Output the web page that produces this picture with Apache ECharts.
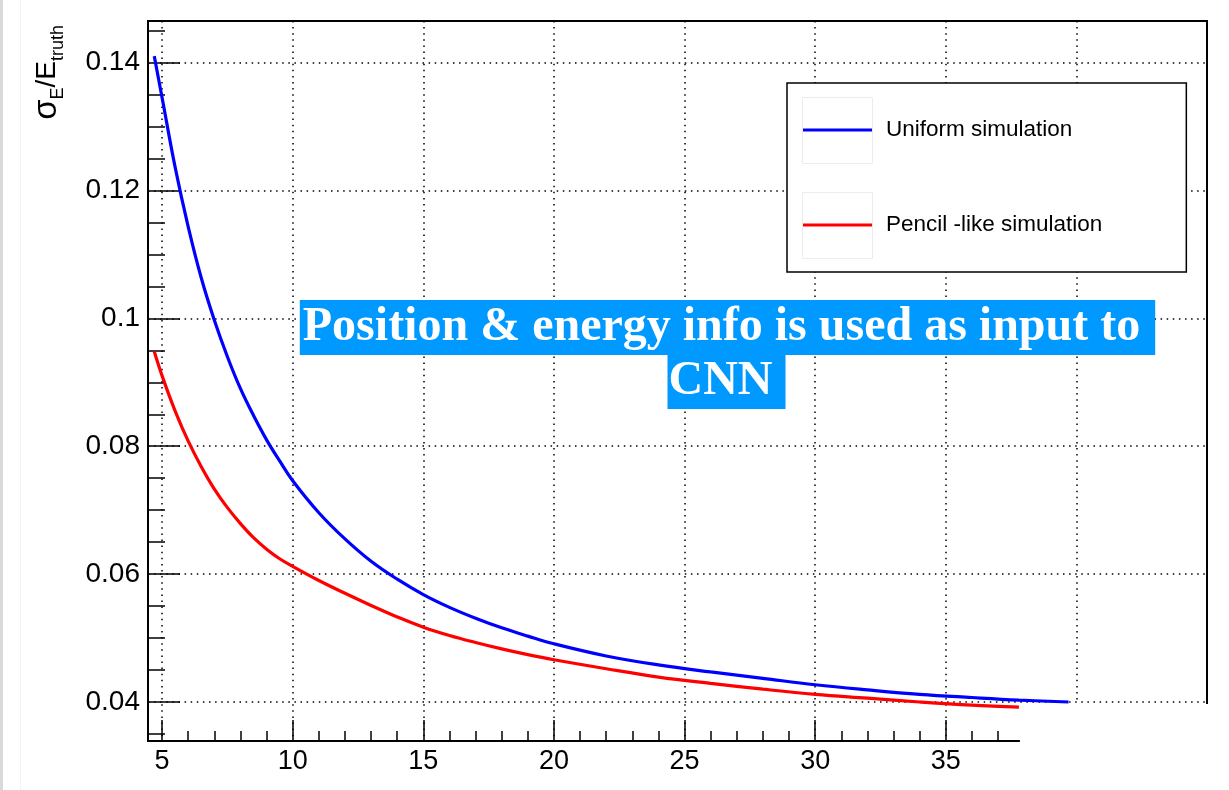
<!DOCTYPE html>
<html>
<head>
<meta charset="utf-8">
<script src="https://cdn.jsdelivr.net/npm/echarts@6/dist/echarts.min.js"></script>
<style>
  html, body { margin: 0; padding: 0; background: #fff; }
  #chart { width: 1229px; height: 790px; }
</style>
</head>
<body>
<div id="chart"></div>
<script>
// Energy resolution curves (sigma_E / E_truth versus beam energy)
const seriesNames = ['Uniform simulation', 'Pencil -like simulation'];

const uniformEnergy = [4.7, 5, 5.5, 6, 6.5, 7, 7.5, 8, 8.5, 9, 9.5, 10, 11, 12, 13, 14, 15, 16, 17, 18, 19, 20, 22, 24, 26, 28, 30, 32, 34, 36, 37.8, 39.7];
const uniformResolution = [0.1410, 0.1345, 0.1236, 0.1143, 0.1063, 0.0997, 0.0940, 0.0890, 0.0848, 0.0810, 0.0777, 0.0746, 0.0696, 0.0655, 0.0620, 0.0592, 0.0568, 0.0548, 0.0531, 0.0516, 0.0503, 0.0491, 0.0472, 0.0458, 0.0447, 0.0437, 0.0427, 0.0419, 0.0412, 0.0407, 0.0403, 0.0400];

const pencilEnergy = [4.7, 5, 5.5, 6, 6.5, 7, 7.5, 8, 8.5, 9, 9.5, 10, 11, 12, 13, 14, 15, 16, 17, 18, 19, 20, 22, 24, 26, 28, 30, 32, 34, 36, 37.8];
const pencilResolution = [0.0948, 0.0910, 0.0855, 0.0808, 0.0768, 0.0733, 0.0704, 0.0679, 0.0657, 0.0639, 0.0624, 0.0612, 0.0590, 0.0570, 0.0551, 0.0533, 0.0517, 0.0504, 0.0493, 0.0483, 0.0474, 0.0466, 0.0452, 0.0439, 0.0429, 0.0420, 0.0412, 0.0406, 0.0400, 0.0395, 0.0392];

// Axis ticks and labels
const xMajorTicks = [5, 10, 15, 20, 25, 30, 35, 40];
const xTickLabels = [5, 10, 15, 20, 25, 30, 35];
const xMinorTicks = [6, 7, 8, 9, 11, 12, 13, 14, 16, 17, 18, 19, 21, 22, 23, 24, 26, 27, 28, 29, 31, 32, 33, 34, 36, 37];
const yMajorTicks = [0.04, 0.06, 0.08, 0.1, 0.12, 0.14];
const yMinorTicks = [0.035, 0.045, 0.05, 0.055, 0.065, 0.07, 0.075, 0.085, 0.09, 0.095, 0.105, 0.11, 0.115, 0.125, 0.13, 0.135, 0.145];

const xRange = [4.46, 45];
const yRange = [0.0339, 0.1465];
const xAxisEnd = 37.8;   // the drawn bottom axis stops here

const annotationLines = ['Position & energy info is used as input to ', 'CNN '];

const toPairs = (xs, ys) => xs.map((x, i) => [x, ys[i]]);

const chart = echarts.init(document.getElementById('chart'), null, { renderer: 'canvas' });

const labelFont = 'Liberation Sans, Arial, Helvetica, sans-serif';
const gridDots = { color: '#000', width: 1.5, type: [1.5, 4.6] };

chart.setOption({
  animation: false,
  backgroundColor: '#fff',
  grid: {
    left: 148, top: 21, right: 22, bottom: 49,
    show: true, borderColor: '#000', borderWidth: 2, backgroundColor: 'transparent'
  },
  xAxis: [
    {
      type: 'value', min: xRange[0], max: xRange[1], position: 'bottom',
      axisLine: { show: true, onZero: false, lineStyle: { color: '#000', width: 2 } },
      axisTick: { show: true, inside: true, length: 21, customValues: xMajorTicks, lineStyle: { color: '#000', width: 1.5 } },
      axisLabel: {
        customValues: xTickLabels, color: '#000', fontSize: 27, fontFamily: labelFont, margin: 7,
        formatter: v => String(Math.round(v))
      },
      splitLine: { show: true, lineStyle: gridDots }
    },
    {
      type: 'value', min: xRange[0], max: xRange[1], position: 'bottom',
      axisLine: { show: false, onZero: false },
      axisTick: { show: true, inside: true, length: 10, customValues: xMinorTicks, lineStyle: { color: '#000', width: 1.5 } },
      axisLabel: { show: false },
      splitLine: { show: false }
    }
  ],
  yAxis: [
    {
      type: 'value', min: yRange[0], max: yRange[1], position: 'left',
      axisLine: { show: true, onZero: false, lineStyle: { color: '#000', width: 2 } },
      axisTick: { show: true, inside: true, length: 32, customValues: yMajorTicks, lineStyle: { color: '#000', width: 1.5 } },
      axisLabel: {
        customValues: yMajorTicks, color: '#000', fontSize: 28, fontFamily: labelFont, margin: 8,
        formatter: v => String(Math.round(v * 1000) / 1000)
      },
      splitLine: { show: true, lineStyle: gridDots }
    },
    {
      type: 'value', min: yRange[0], max: yRange[1], position: 'left',
      axisLine: { show: false, onZero: false },
      axisTick: { show: true, inside: true, length: 17, customValues: yMinorTicks, lineStyle: { color: '#000', width: 1.5 } },
      axisLabel: { show: false },
      splitLine: { show: false }
    }
  ],
  legend: {
    left: 787, top: 83, orient: 'vertical',
    data: seriesNames,
    icon: 'path://M0,0h0.05v0.05h-0.05z M0,31.5h70v3h-70z M69.95,65.95h0.05v0.05h-0.05z',
    itemWidth: 70, itemHeight: 66, itemGap: 29,
    padding: [14, 84, 14, 15],
    backgroundColor: '#fff', borderColor: '#000', borderWidth: 1.5, borderRadius: 0,
    selectedMode: false,
    textStyle: { fontFamily: labelFont, fontSize: 22.5, color: '#000', padding: [15, 0, 0, 9] }
  },
  series: [
    {
      name: seriesNames[0], type: 'line', xAxisIndex: 0, yAxisIndex: 0,
      data: toPairs(uniformEnergy, uniformResolution),
      showSymbol: false, symbol: 'none', smooth: 0.4,
      lineStyle: { color: '#0000ff', width: 3.2 }, itemStyle: { color: '#0000ff' }, z: 3
    },
    {
      name: seriesNames[1], type: 'line', xAxisIndex: 0, yAxisIndex: 0,
      data: toPairs(pencilEnergy, pencilResolution),
      showSymbol: false, symbol: 'none', smooth: 0.4,
      lineStyle: { color: '#ff0000', width: 3.2 }, itemStyle: { color: '#ff0000' }, z: 3
    }
  ]
});

// White panel hiding the frame and axis beyond the end of the bottom axis
const cornerPx = chart.convertToPixel({ xAxisIndex: 0, yAxisIndex: 0 }, [xAxisEnd, 0.04]);

chart.setOption({
  graphic: [
    // left window edge
    { type: 'rect', z: 100, shape: { x: 0, y: 0, width: 3, height: 790 }, style: { fill: '#d9d9d9' } },
    { type: 'rect', z: 100, shape: { x: 20, y: 0, width: 1, height: 790 }, style: { fill: '#f3f3f3' } },
    {
      type: 'rect', z: 100,
      shape: { x: cornerPx[0] + 1, y: cornerPx[1] + 2, width: 1229 - cornerPx[0], height: 50 },
      style: { fill: '#fff' }
    },
    // legend sample frames
    { type: 'rect', z: 100, shape: { x: 802.5, y: 97.5, width: 70, height: 66 }, style: { fill: 'none', stroke: '#ececec', lineWidth: 1 } },
    { type: 'rect', z: 100, shape: { x: 802.5, y: 192.5, width: 70, height: 66 }, style: { fill: 'none', stroke: '#ececec', lineWidth: 1 } },
    // y axis title
    {
      type: 'text', z: 100, x: 47, y: 25, rotation: Math.PI / 2,
      style: {
        text: '{s|σ}{b|E}{a|/E}{b|truth}',
        align: 'right', verticalAlign: 'middle', fill: '#000',
        rich: {
          s: { fontSize: 33, fontFamily: labelFont, lineHeight: 40, verticalAlign: 'middle' },
          a: { fontSize: 28, fontFamily: labelFont, lineHeight: 40, verticalAlign: 'middle' },
          b: { fontSize: 18, fontFamily: labelFont, lineHeight: 18, verticalAlign: 'bottom' }
        }
      }
    },
    // annotation
    {
      type: 'text', z: 100, x: 727.5, y: 300,
      style: {
        text: annotationLines[0], fontSize: 48, fontWeight: 'bold', fontFamily: 'Liberation Serif, Times New Roman, serif',
        fill: '#fff', backgroundColor: '#0099ff', padding: [0, 3, 0, 3], lineHeight: 55,
        align: 'center', verticalAlign: 'top'
      }
    },
    {
      type: 'text', z: 100, x: 726.5, y: 355,
      style: {
        text: annotationLines[1], fontSize: 48, fontWeight: 'bold', fontFamily: 'Liberation Serif, Times New Roman, serif',
        fill: '#fff', backgroundColor: '#0099ff', padding: [0, 1, 0, 1], lineHeight: 54,
        align: 'center', verticalAlign: 'top'
      }
    }
  ]
});
</script>
</body>
</html>
